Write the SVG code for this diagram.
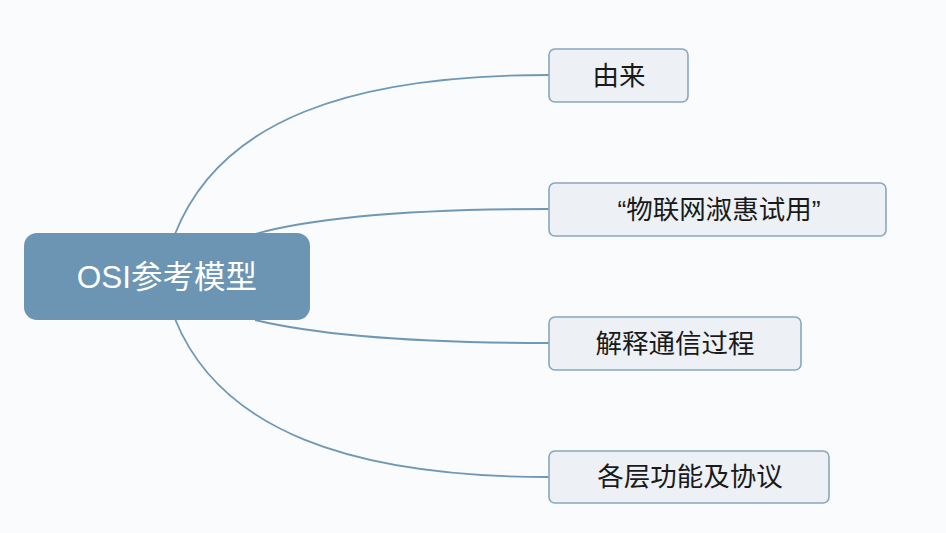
<svg xmlns="http://www.w3.org/2000/svg" width="946" height="533" viewBox="0 0 946 533">
<style>
.conn{fill:none;stroke:#6f98b6;stroke-width:1.8}
.child{fill:#edf1f6;stroke:#8aa5bf;stroke-width:1.6}
.ct{font-family:"Liberation Sans","Noto Sans CJK SC",sans-serif;font-size:26.5px;fill:#1a1a1a;text-anchor:middle;dominant-baseline:central}
.mt{font-family:"Liberation Sans","Noto Sans CJK SC",sans-serif;font-size:31.5px;fill:#ffffff;text-anchor:middle;dominant-baseline:central}
</style>
<rect x="0" y="0" width="946" height="533" fill="#fafbfc"/>
<g id="connectors">
<path class="conn" d="M175,234 C220,120 350,75 549,75"/>
<path class="conn" d="M255,234 C330,213 450,209 549,209"/>
<path class="conn" d="M255,320 C330,338 450,343 549,343"/>
<path class="conn" d="M175,319 C220,430 350,477 549,477"/>
</g>
<g id="root">
<rect x="24" y="233" width="286" height="87" rx="13" fill="#6b95b3"/>
<text class="mt" x="167" y="277">OSI参考模型</text>
</g>
<g id="n1">
<rect class="child" x="549" y="49" width="139" height="53" rx="6"/>
<text class="ct" x="619" y="75.5">由来</text>
</g>
<g id="n2">
<rect class="child" x="549" y="183" width="337" height="53" rx="6"/>
<text class="ct" x="719" y="209.5">“物联网淑惠试用”</text>
</g>
<g id="n3">
<rect class="child" x="549" y="317" width="252" height="53" rx="6"/>
<text class="ct" x="675" y="343.5">解释通信过程</text>
</g>
<g id="n4">
<rect class="child" x="549" y="451" width="280" height="52" rx="6"/>
<text class="ct" x="690" y="477">各层功能及协议</text>
</g>
</svg>
